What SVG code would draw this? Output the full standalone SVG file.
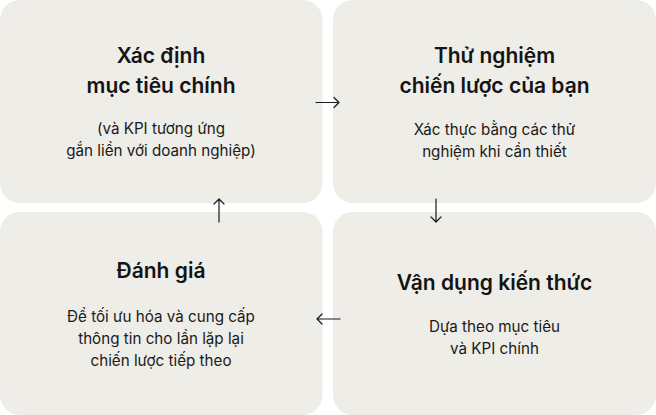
<svg xmlns="http://www.w3.org/2000/svg" width="656" height="415" viewBox="0 0 656 415">
<style>
.box{fill:#eeede8}
.t{font-family:Inter,"Noto Sans",sans-serif;font-weight:600;font-size:21px;fill:#141414;text-anchor:middle}
.s{font-family:Inter,"Noto Sans",sans-serif;font-weight:400;font-size:15.2px;fill:#1a1a1a;text-anchor:middle}
.a{fill:none;stroke:#1a1a1a;stroke-width:1.2;stroke-linecap:round;stroke-linejoin:round}
</style>
<rect width="656" height="415" fill="#ffffff"/>
<g id="node1">
<rect class="box" x="0" y="0" width="322.5" height="203" rx="20"/>
<text class="t" x="161" y="63.3">Xác định</text>
<text class="t" x="161" y="93">mục tiêu chính</text>
<text class="s" x="161" y="133.5">(và KPI tương ứng</text>
<text class="s" x="161" y="156">gắn liền với doanh nghiệp)</text>
</g>
<g id="node2">
<rect class="box" x="333" y="0" width="323" height="203" rx="20"/>
<text class="t" x="494.5" y="63">Thử nghiệm</text>
<text class="t" x="494.5" y="92.5">chiến lược của bạn</text>
<text class="s" x="494.5" y="135">Xác thực bằng các thử</text>
<text class="s" x="494.5" y="157">nghiệm khi cần thiết</text>
</g>
<g id="node3">
<rect class="box" x="0" y="212" width="322.5" height="203" rx="20"/>
<text class="t" x="161" y="278">Đánh giá</text>
<text class="s" x="161" y="322">Để tối ưu hóa và cung cấp</text>
<text class="s" x="161" y="344">thông tin cho lần lặp lại</text>
<text class="s" x="161" y="366">chiến lược tiếp theo</text>
</g>
<g id="node4">
<rect class="box" x="333" y="212" width="323" height="203" rx="20"/>
<text class="t" x="494.5" y="289.5">Vận dụng kiến thức</text>
<text class="s" x="494.5" y="332">Dựa theo mục tiêu</text>
<text class="s" x="494.5" y="354">và KPI chính</text>
</g>
<g id="connectors">
<path class="a" d="M316,102.5 H339 M334,97.5 L339,102.5 L334,107.5"/>
<path class="a" d="M436,199 V222 M431,217 L436,222 L441,217"/>
<path class="a" d="M340,319 H317 M322,314 L317,319 L322,324"/>
<path class="a" d="M219,222 V199 M214,204 L219,199 L224,204"/>
</g>
</svg>
